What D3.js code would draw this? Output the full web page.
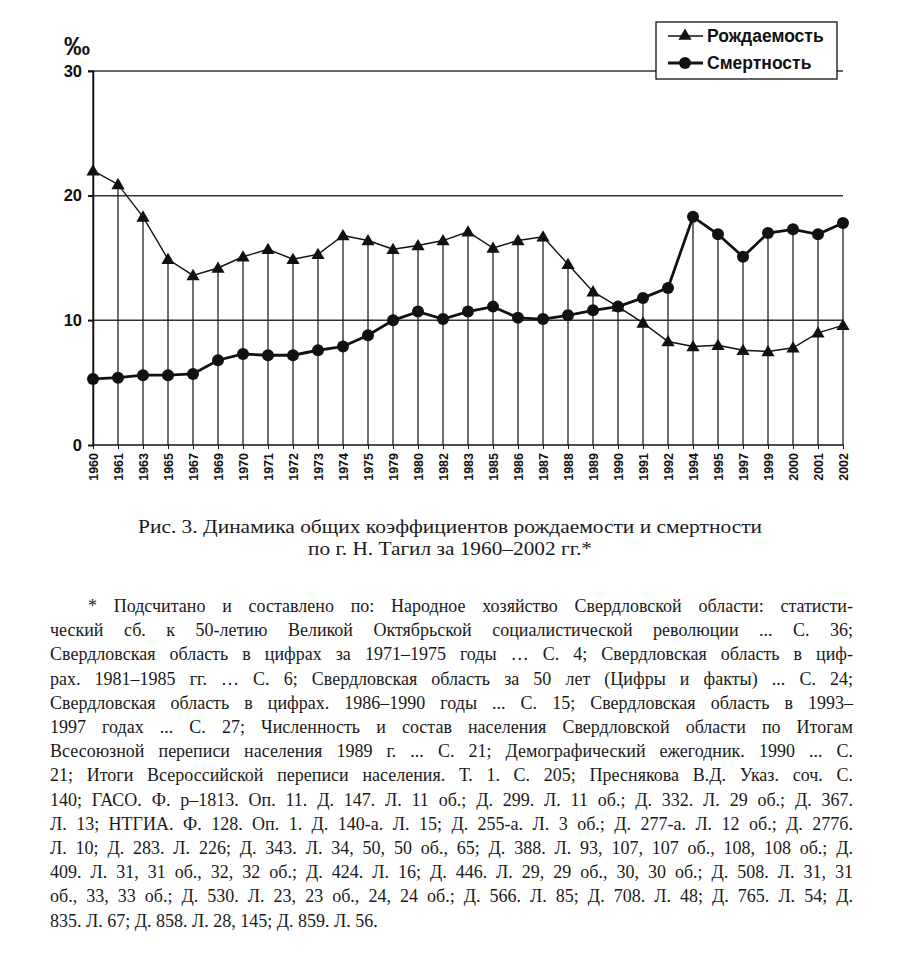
<!DOCTYPE html>
<html><head><meta charset="utf-8">
<script src="https://cdn.jsdelivr.net/npm/d3@7"></script>
<style>body{margin:0;background:#fff}svg{display:block}</style>
</head><body>
<svg id="c" width="900" height="961"></svg>
<script>
const years = ["1960","1961","1963","1965","1967","1969","1970","1971","1972","1973","1974","1975","1979","1980","1982","1983","1985","1986","1987","1988","1989","1990","1991","1992","1994","1995","1997","1999","2000","2001","2002"];
const birth = [22.0,20.9,18.3,14.9,13.6,14.2,15.1,15.7,14.9,15.3,16.8,16.4,15.7,16.0,16.4,17.1,15.8,16.4,16.7,14.5,12.3,11.1,9.8,8.3,7.9,8.0,7.6,7.5,7.8,9.0,9.6];
const death = [5.3,5.4,5.6,5.6,5.7,6.8,7.3,7.2,7.2,7.6,7.9,8.8,10.0,10.7,10.1,10.7,11.1,10.2,10.1,10.4,10.8,11.1,11.8,12.6,18.3,16.9,15.1,17.0,17.3,16.9,17.8];
const yTicks = [0,10,20,30];
const seriesNames = ["Рождаемость","Смертность"];
const unitLabel = "‰";
const captionLines = ["Рис. 3. Динамика общих коэффициентов рождаемости и смертности","по г. Н. Тагил за 1960–2002 гг.*"];
const noteLines = [
"* Подсчитано и составлено по: Народное хозяйство Свердловской области: статисти-",
"ческий сб. к 50-летию Великой Октябрьской социалистической революции ... С. 36;",
"Свердловская область в цифрах за 1971–1975 годы … С. 4; Свердловская область в циф-",
"рах. 1981–1985 гг. … С. 6; Свердловская область за 50 лет (Цифры и факты) ... С. 24;",
"Свердловская область в цифрах. 1986–1990 годы ... С. 15; Свердловская область в 1993–",
"1997 годах ... С. 27; Численность и состав населения Свердловской области по Итогам",
"Всесоюзной переписи населения 1989 г. ... С. 21; Демографический ежегодник. 1990 ... С.",
"21; Итоги Всероссийской переписи населения. Т. 1. С. 205; Преснякова В.Д. Указ. соч. С.",
"140; ГАСО. Ф. р–1813. Оп. 11. Д. 147. Л. 11 об.; Д. 299. Л. 11 об.; Д. 332. Л. 29 об.; Д. 367.",
"Л. 13; НТГИА. Ф. 128. Оп. 1. Д. 140-а. Л. 15; Д. 255-а. Л. 3 об.; Д. 277-а. Л. 12 об.; Д. 277б.",
"Л. 10; Д. 283. Л. 226; Д. 343. Л. 34, 50, 50 об., 65; Д. 388. Л. 93, 107, 107 об., 108, 108 об.; Д.",
"409. Л. 31, 31 об., 32, 32 об.; Д. 424. Л. 16; Д. 446. Л. 29, 29 об., 30, 30 об.; Д. 508. Л. 31, 31",
"об., 33, 33 об.; Д. 530. Л. 23, 23 об., 24, 24 об.; Д. 566. Л. 85; Д. 708. Л. 48; Д. 765. Л. 54; Д.",
"835. Л. 67; Д. 858. Л. 28, 145; Д. 859. Л. 56."
];

const svg = d3.select("#c");
const x = d3.scalePoint().domain(years).range([93, 843]);
const y = d3.scaleLinear().domain([0, 30]).range([445, 71]);
const sans = "Arial, 'Liberation Sans', sans-serif";
const serif = "'Liberation Serif', 'Times New Roman', serif";
const ink = "#111";

// gridlines
svg.append("g").selectAll("line").data(yTicks.filter(d => d > 0)).join("line")
  .attr("x1", 88).attr("x2", 843).attr("y1", d => y(d)).attr("y2", d => y(d))
  .attr("stroke", "#333").attr("stroke-width", 1.5);

// drop lines
svg.append("g").selectAll("line").data(years).join("line")
  .attr("x1", d => x(d)).attr("x2", d => x(d))
  .attr("y1", (d, i) => i === 0 ? y(30) : y(Math.max(birth[i], death[i])))
  .attr("y2", y(0)).attr("stroke", "#222").attr("stroke-width", 1.3);

// axes
const yAxis = svg.append("g").attr("transform", "translate(93,0)")
  .call(d3.axisLeft(y).tickValues(yTicks).tickSize(5).tickPadding(6).tickFormat(d3.format("d")));
yAxis.select(".domain").attr("stroke", ink).attr("stroke-width", 1.5);
yAxis.selectAll(".tick line").attr("stroke", ink).attr("stroke-width", 1.5);
yAxis.selectAll("text").attr("font-family", sans).attr("font-weight", "bold").attr("font-size", 16.5).attr("fill", ink);

const xAxis = svg.append("g").attr("transform", `translate(0,${y(0)})`)
  .call(d3.axisBottom(x).tickSize(4).tickSizeOuter(0));
xAxis.select(".domain").attr("stroke", ink).attr("stroke-width", 1.5).attr("d", `M93,0H843`);
xAxis.selectAll(".tick line").attr("stroke", ink);
xAxis.selectAll("text")
  .attr("font-family", sans).attr("font-weight", "bold").attr("font-size", 12.5).attr("fill", ink)
  .attr("transform", "rotate(-90)").attr("text-anchor", "end").attr("x", -8).attr("y", 0).attr("dy", "0.35em");

svg.append("text").attr("x", 64).attr("y", 55).text(unitLabel)
  .attr("font-family", sans).attr("font-weight", "bold").attr("font-size", 26).attr("fill", ink);

// lines
const line = d3.line().x((d, i) => x(years[i])).y(d => y(d));
svg.append("path").datum(birth).attr("d", line).attr("fill", "none").attr("stroke", ink).attr("stroke-width", 1.4);
svg.append("path").datum(death).attr("d", line).attr("fill", "none").attr("stroke", ink).attr("stroke-width", 2.8);

const tri = d3.symbol().type(d3.symbolTriangle).size(75);
svg.append("g").selectAll("path").data(birth).join("path")
  .attr("d", tri).attr("transform", (d, i) => `translate(${x(years[i])},${y(d) + 1})`).attr("fill", ink);
svg.append("g").selectAll("circle").data(death).join("circle")
  .attr("cx", (d, i) => x(years[i])).attr("cy", d => y(d)).attr("r", 6).attr("fill", ink);

// legend
const lg = svg.append("g");
lg.append("rect").attr("x", 656).attr("y", 22).attr("width", 181).attr("height", 57)
  .attr("fill", "#fff").attr("stroke", ink).attr("stroke-width", 1.3);
seriesNames.forEach((n, k) => {
  const cy = 36 + k * 27;
  lg.append("line").attr("x1", 668).attr("x2", 703).attr("y1", cy).attr("y2", cy).attr("stroke", ink).attr("stroke-width", k ? 2.8 : 1.4);
  if (k === 0) lg.append("path").attr("d", tri).attr("transform", `translate(685,${cy})`).attr("fill", ink);
  else lg.append("circle").attr("cx", 685).attr("cy", cy).attr("r", 6).attr("fill", ink);
  lg.append("text").attr("x", 707).attr("y", cy).attr("dy", "0.36em").text(n)
    .attr("font-family", sans).attr("font-weight", "bold").attr("font-size", 17.5).attr("fill", ink);
});

// caption
const capW = [624, 284];
captionLines.forEach((t, k) => {
  svg.append("text").attr("x", 450).attr("y", 533 + k * 22).attr("text-anchor", "middle").text(t)
    .attr("font-family", serif).attr("font-size", 18).attr("fill", "#1a1a1a")
    .attr("textLength", capW[k]).attr("lengthAdjust", "spacingAndGlyphs");
});

// footnote, justified
const fs = 18, left = 50, right = 853, base0 = 612, lh = 24.2;
noteLines.forEach((t, k) => {
  const yy = base0 + k * lh;
  const start = k === 0 ? 88 : left;
  const last = k === noteLines.length - 1;
  const words = t.split(" ");
  const g = svg.append("g");
  const nodes = words.map(w => g.append("text").attr("y", yy).text(w)
    .attr("font-family", serif).attr("font-size", fs).attr("fill", "#1a1a1a"));
  const widths = nodes.map(n => n.node().getComputedTextLength());
  const total = d3.sum(widths);
  const space = fs * 0.25;
  let gap = last ? space : (right - start - total) / (words.length - 1);
  let scale = 1;
  if (!last && gap < space * 0.6) { gap = space * 0.6; scale = (right - start - gap * (words.length - 1)) / total; }
  let cx = start;
  nodes.forEach((n, i) => {
    n.attr("x", cx);
    if (scale !== 1) n.attr("textLength", widths[i] * scale).attr("lengthAdjust", "spacingAndGlyphs");
    cx += widths[i] * scale + gap;
  });
});
</script>
</body></html>
